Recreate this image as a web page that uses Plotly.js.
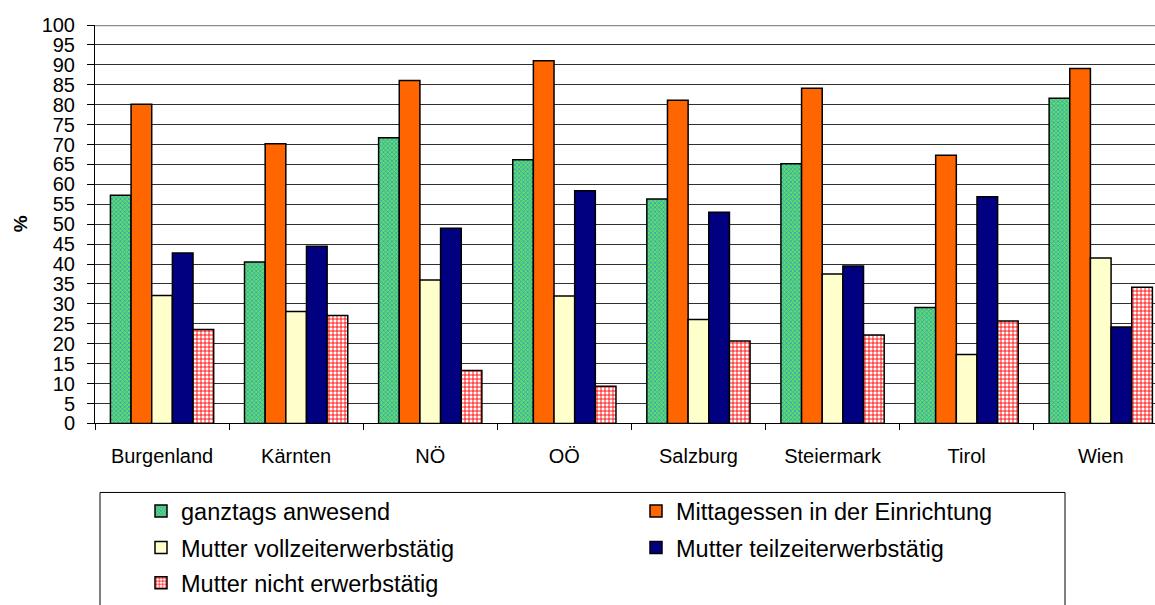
<!DOCTYPE html>
<html>
<head>
<meta charset="utf-8">
<script src="https://cdn.plot.ly/plotly-3.0.1.min.js"></script>
<style>html,body{margin:0;padding:0;background:#fff;}#chart{width:1155px;height:605px;}</style>
</head>
<body>
<div id="chart"></div>
<script>
const categories = ["Burgenland", "Kärnten", "NÖ", "OÖ", "Salzburg", "Steiermark", "Tirol", "Wien"];
const seriesNames = ["ganztags anwesend", "Mittagessen in der Einrichtung", "Mutter vollzeiterwerbstätig", "Mutter teilzeiterwerbstätig", "Mutter nicht erwerbstätig"];
const ganztags = [57.3, 40.5, 71.7, 66.2, 56.3, 65.2, 29.1, 81.6];
const mittagessen = [80.1, 70.2, 86.1, 91.0, 81.1, 84.1, 67.3, 89.1];
const vollzeit = [32.1, 28.1, 36.0, 32.0, 26.1, 37.5, 17.3, 41.5];
const teilzeit = [42.8, 44.5, 49.0, 58.4, 53.0, 39.5, 56.9, 24.2];
const nichtErwerb = [23.6, 27.1, 13.3, 9.3, 20.7, 22.2, 25.7, 34.2];
const yTicks = [0,5,10,15,20,25,30,35,40,45,50,55,60,65,70,75,80,85,90,95,100];

const FONT = "Liberation Sans, Arial, sans-serif";
const outline = {color: "#000", width: 1.5};

const traces = [
  {name: seriesNames[0], y: ganztags, legend: "legend", marker: {color: "#4fc98a", line: outline,
     pattern: {shape: "x", fgcolor: "#3a98d0", bgcolor: "#5ee060", size: 3, solidity: 0.45}}},
  {name: seriesNames[1], y: mittagessen, legend: "legend", marker: {color: "#FF6600", line: outline}},
  {name: seriesNames[2], y: vollzeit, legend: "legend2", marker: {color: "#FFFFCC", line: outline}},
  {name: seriesNames[3], y: teilzeit, legend: "legend2", marker: {color: "#000080", line: outline}},
  {name: seriesNames[4], y: nichtErwerb, legend: "legend3", marker: {color: "#ffffff", line: outline,
     pattern: {shape: "+", fgcolor: "#FF0000", bgcolor: "#ffffff", size: 4, solidity: 0.4}}}
].map(t => Object.assign({type: "bar", x: categories, hoverinfo: "none", showlegend: true}, t));

const W = 1155, H = 605, L = 95, R = 0, T = 25;
const plotBottom = 429;
const pw = W - L - R, paperH = H - T;
const px = v => (v - L) / pw;
const py = v => (H - v) / paperH;

function legendRow(yPix) {
  return {
    orientation: "h", x: px(141), xanchor: "left", y: py(yPix), yanchor: "middle",
    entrywidth: 450, entrywidthmode: "pixels",
    font: {size: 23.5, family: FONT, color: "#000"},
    bgcolor: "rgba(0,0,0,0)", borderwidth: 0, itemclick: false, itemdoubleclick: false
  };
}

const layout = {
  width: W, height: H,
  margin: {l: L, r: R, t: T, b: 0, pad: 0},
  paper_bgcolor: "#fff", plot_bgcolor: "#fff",
  font: {family: FONT, color: "#000", size: 20},
  barmode: "group", bargap: 0.23, bargroupgap: 0,
  xaxis: {
    type: "category", range: [-0.5, -0.5 + pw / 134.1],
    showline: true, linecolor: "#000", linewidth: 1,
    ticks: "outside", tickson: "boundaries", ticklen: 6, tickcolor: "#000",
    tickfont: {size: 20, family: FONT, color: "#000"},
    ticklabelstandoff: 15, showgrid: false, zeroline: false, fixedrange: true
  },
  yaxis: {
    domain: [py(plotBottom), 1],
    range: [0, 100], tickvals: yTicks, ticktext: yTicks.map(String),
    showline: true, linecolor: "#000", linewidth: 1,
    ticks: "outside", ticklen: 7, tickcolor: "#000",
    tickfont: {size: 20, family: FONT, color: "#000"},
    ticklabelstandoff: 8,
    showgrid: true, gridcolor: "#303030", gridwidth: 1, zeroline: false, fixedrange: true
  },
  legend: legendRow(518),
  legend2: legendRow(555),
  legend3: legendRow(591),
  shapes: [
    {type: "line", xref: "paper", yref: "y", x0: 0, x1: 1, y0: 100, y1: 100,
     line: {color: "#8c8c8c", width: 2.5}},
    {type: "rect", xref: "paper", yref: "paper", x0: px(100), x1: px(1065), y0: py(499), y1: py(640),
     line: {color: "#000", width: 1}, fillcolor: "rgba(0,0,0,0)"}
  ],
  annotations: [
    {text: "%", xref: "paper", yref: "paper", x: px(20), y: py(227), xanchor: "center", yanchor: "middle",
     textangle: -90, showarrow: false, font: {size: 19, family: FONT, color: "#000", weight: "bold"}}
  ]
};

Plotly.newPlot("chart", traces, layout, {displayModeBar: false, staticPlot: true});
</script>
</body>
</html>
